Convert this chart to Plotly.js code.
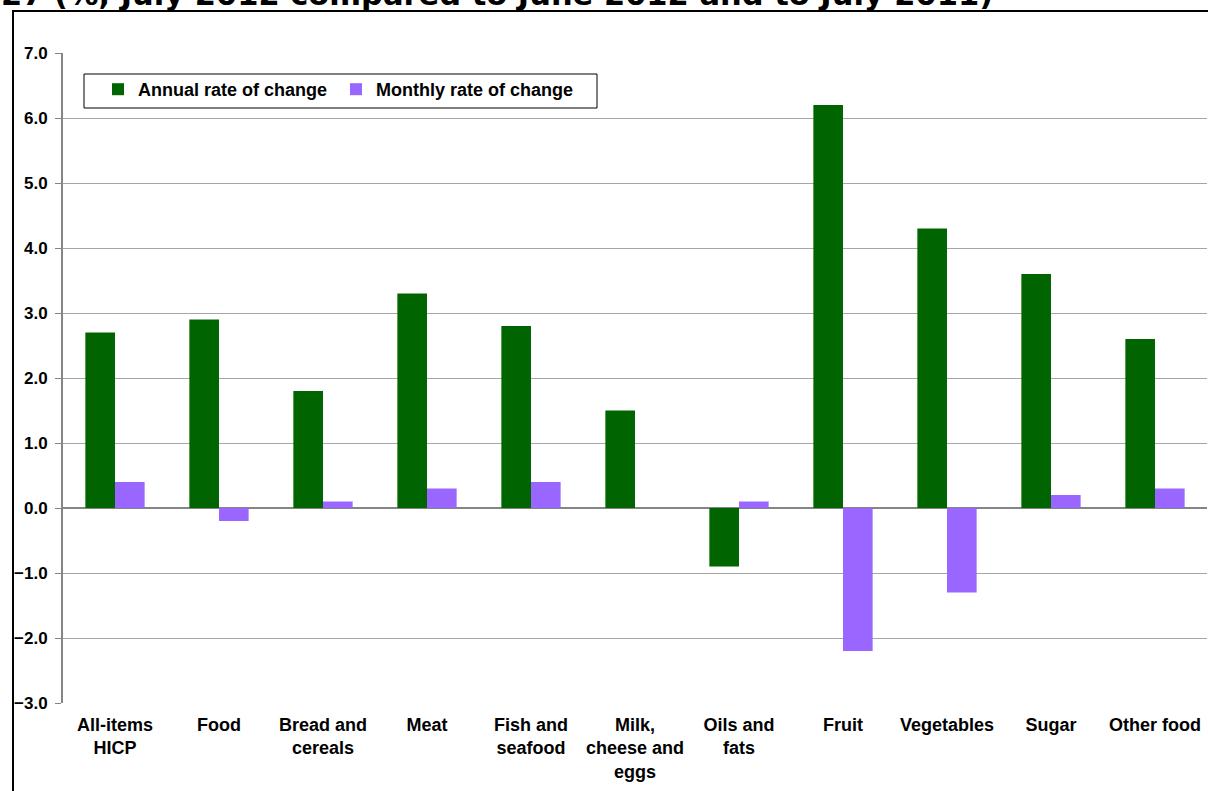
<!DOCTYPE html>
<html>
<head>
<meta charset="utf-8">
<script src="https://cdn.plot.ly/plotly-3.0.1.min.js"></script>
<style>
html,body{margin:0;padding:0;background:#fff;}
#chart{width:1208px;height:791px;}
</style>
</head>
<body>
<div id="chart"></div>
<script>
const categories = ["All-items<br>HICP", "Food", "Bread and<br>cereals", "Meat", "Fish and<br>seafood", "Milk,<br>cheese and<br>eggs", "Oils and<br>fats", "Fruit", "Vegetables", "Sugar", "Other food"];
const annualRate = [2.7, 2.9, 1.8, 3.3, 2.8, 1.5, -0.9, 6.2, 4.3, 3.6, 2.6];
const monthlyRate = [0.4, -0.2, 0.1, 0.3, 0.4, 0.0, 0.1, -2.2, -1.3, 0.2, 0.3];
const seriesNames = ["Annual rate of change", "Monthly rate of change"];
const titleText = "27 (%, July 2012 compared to June 2012 and to July 2011)";

const W = 1208, H = 791;
const mL = 63, mR = 1, mT = 53, mB = 88;
const pw = W - mL - mR, ph = H - mT - mB;
const px2x = p => (p - mL) / pw;
const py2y = p => 1 - (p - mT) / ph;

const fam = "Arial, 'Liberation Sans', sans-serif";

const traces = [
  {type: "bar", name: seriesNames[0], x: categories, y: annualRate,
   marker: {color: "#006400", line: {width: 0}}},
  {type: "bar", name: seriesNames[1], x: categories, y: monthlyRate,
   marker: {color: "#9966ff", line: {width: 0}}}
];

const layout = {
  width: W, height: H,
  margin: {l: mL, r: mR, t: mT, b: mB, pad: 0},
  paper_bgcolor: "#fff", plot_bgcolor: "#fff",
  font: {family: fam, size: 17, color: "#000", weight: "bold"},
  barmode: "group", bargap: 0.43, bargroupgap: 0,
  showlegend: true,
  legend: {
    orientation: "h", x: px2x(98), y: py2y(71), xanchor: "left", yanchor: "top",
    bgcolor: "rgba(0,0,0,0)", borderwidth: 0,
    font: {family: fam, size: 18, color: "#000", weight: "bold"},
    itemwidth: 30, entrywidth: 193, entrywidthmode: "pixels", traceorder: "normal"
  },
  xaxis: {
    type: "category", showgrid: false, zeroline: false, showline: false,
    ticks: "", ticklabelstandoff: 9,
    tickfont: {family: fam, size: 18, color: "#000", weight: "bold"},
    automargin: false
  },
  yaxis: {
    range: [-3, 7], dtick: 1, tick0: 0, tickformat: ".1f",
    showgrid: true, gridcolor: "#a6a6a6", gridwidth: 1,
    zeroline: true, zerolinecolor: "#858585", zerolinewidth: 2,
    showline: true, linecolor: "#858585", linewidth: 2,
    ticks: "outside", ticklen: 6, tickcolor: "#858585", tickwidth: 1,
    ticklabelstandoff: 4,
    tickfont: {family: fam, size: 17, color: "#000", weight: "bold"},
    automargin: false, fixedrange: true
  },
  shapes: [
    {type: "rect", xref: "paper", yref: "paper",
     x0: px2x(13), x1: px2x(1260), y0: py2y(860), y1: py2y(11),
     line: {color: "#000", width: 2}, fillcolor: "rgba(0,0,0,0)", layer: "above"},
    {type: "rect", xref: "paper", yref: "paper",
     x0: px2x(84), x1: px2x(597), y0: py2y(108), y1: py2y(74),
     line: {color: "#000", width: 1}, fillcolor: "rgba(0,0,0,0)", layer: "above"}
  ],
  annotations: [
    {text: titleText, xref: "paper", yref: "paper", x: px2x(-1), y: py2y(-6),
     xanchor: "left", yanchor: "middle", showarrow: false,
     font: {family: "'DejaVu Sans', Verdana, sans-serif", size: 30.5, color: "#000", weight: "bold"}}
  ]
};

Plotly.newPlot("chart", traces, layout, {displayModeBar: false, staticPlot: true});
</script>
</body>
</html>
